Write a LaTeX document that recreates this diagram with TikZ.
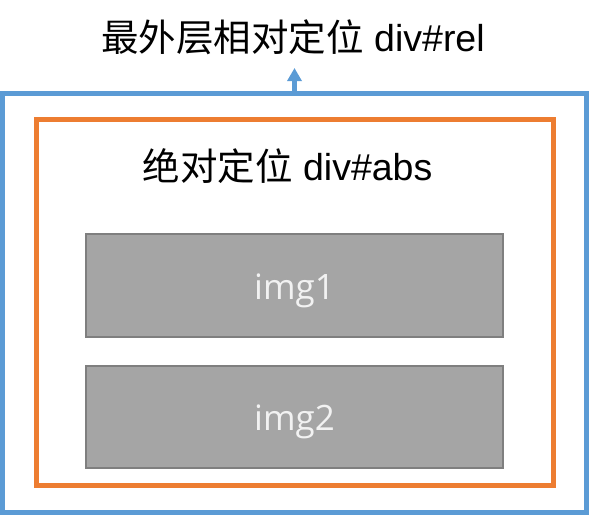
\documentclass[tikz,border=0pt]{standalone}
\usepackage{fontspec}
\setmainfont{Liberation Sans}
\newfontfamily\cjk{Noto Sans CJK SC}
\newfontfamily\imgfont{Open Sans}
\usetikzlibrary{arrows.meta}

\definecolor{relblue}{HTML}{5B9BD5}
\definecolor{absorange}{HTML}{ED7D31}
\definecolor{imgfill}{HTML}{A5A5A5}
\definecolor{imgedge}{HTML}{7F7F7F}

\begin{document}
\begin{tikzpicture}[x=1pt,y=-1pt,
  divbox/.style={draw, line width=5pt, minimum width=#1},
  imgbox/.style={draw=imgedge, fill=imgfill, line width=2pt, minimum width=417pt,
    text=white!95!black, font=\imgfont\fontsize{35}{40}\selectfont},
  caption/.style={anchor=base, inner sep=0pt, font=\fontsize{37.5}{40}\selectfont}]

\useasboundingbox (0,0) rectangle (589,515);

\node[divbox=584pt, draw=relblue, minimum height=419pt] (rel) at (294.5,303) {};
\node[divbox=516.5pt, draw=absorange, minimum height=365.5pt] (abs) at (294.75,302.25) {};

\node[imgbox, minimum height=103pt] (img1) at (294.5,285.5) {\raisebox{-5pt}[\height][\depth]{img1}};
\node[imgbox, minimum height=102pt] (img2) at (294.5,417) {\raisebox{-5pt}[\height][\depth]{img2}};

\node[caption] (reltitle) at (293,51) {{\cjk 最外层相对定位} div\#rel};
\node[caption] (abstitle) at (287.5,180) {{\cjk 绝对定位} div\#abs};

\coordinate (reltip) at (294.5,68);
\draw[relblue, line width=5pt, -{Triangle[width=14pt,length=13pt]}] (rel.north) -- (reltip);

\end{tikzpicture}
\end{document}
